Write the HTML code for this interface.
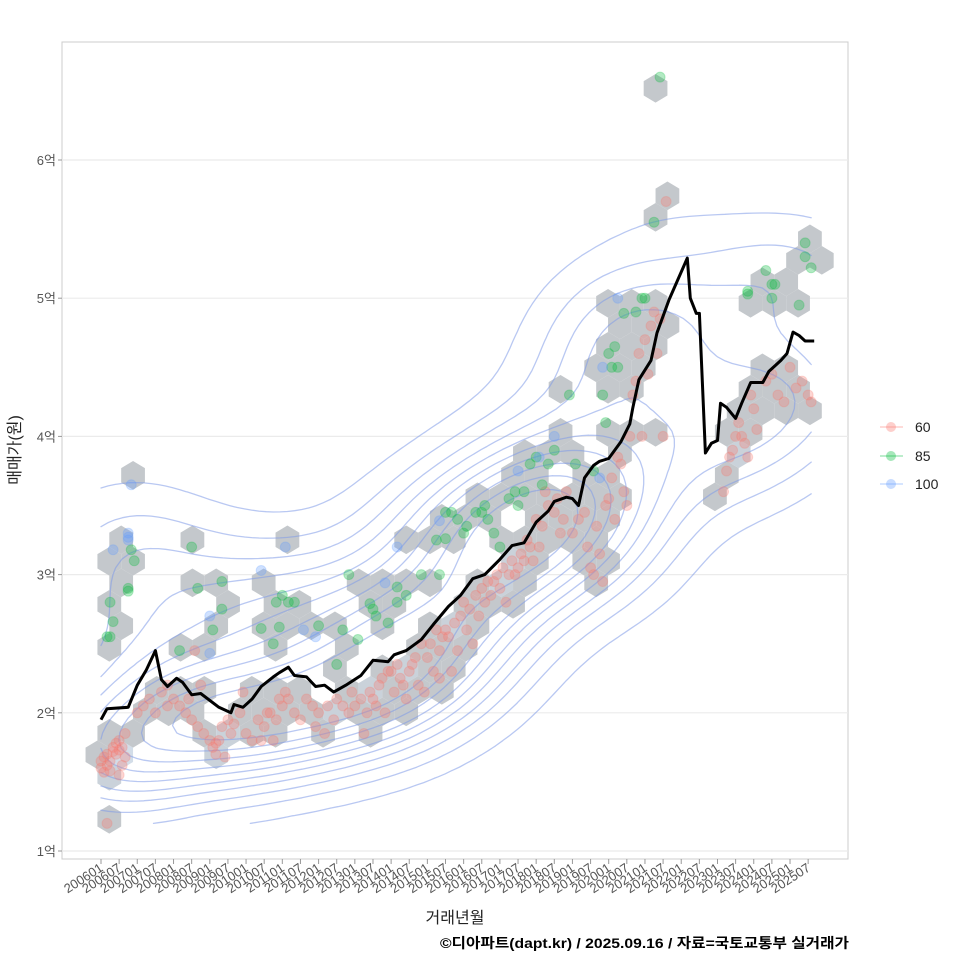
<!DOCTYPE html>
<html><head><meta charset="utf-8">
<style>
body{margin:0;background:#fff;}
svg{display:block;font-family:"Liberation Sans","Noto Sans CJK KR",sans-serif;}
</style></head>
<body>
<svg id="chart" width="960" height="960" viewBox="0 0 960 960" xmlns="http://www.w3.org/2000/svg">
<rect x="0" y="0" width="960" height="960" fill="#fff"/>
<rect x="62" y="42" width="786" height="817" fill="#fff" stroke="#cccccc" stroke-width="1"/>
<g id="grid"></g>
<g id="hexes"></g>
<g id="contours"></g>
<g id="points"></g>
<g id="line"></g>
<g id="axes"></g>
<text x="455" y="923" font-size="16" fill="#222" text-anchor="middle">거래년월</text>
<text transform="translate(20,450) rotate(-90)" font-size="16" fill="#222" text-anchor="middle">매매가(원)</text>
<text x="440" y="948" font-size="14" font-weight="bold" fill="#000" textLength="409" lengthAdjust="spacingAndGlyphs">©디아파트(dapt.kr) / 2025.09.16 / 자료=국토교통부 실거래가</text>
<g>
 <g>
  <line x1="880" y1="427" x2="903" y2="427" stroke="#F8766D" stroke-opacity="0.35" stroke-width="1.5"/>
  <circle cx="891" cy="427" r="5" fill="#F8766D" fill-opacity="0.35"/>
  <text x="915" y="432" font-size="14" fill="#222">60</text>
 </g>
 <g>
  <line x1="880" y1="456" x2="903" y2="456" stroke="#00BA38" stroke-opacity="0.35" stroke-width="1.5"/>
  <circle cx="891" cy="456" r="5" fill="#00BA38" fill-opacity="0.35"/>
  <text x="915" y="461" font-size="14" fill="#222">85</text>
 </g>
 <g>
  <line x1="880" y1="484" x2="903" y2="484" stroke="#619CFF" stroke-opacity="0.35" stroke-width="1.5"/>
  <circle cx="891" cy="484" r="5" fill="#619CFF" fill-opacity="0.35"/>
  <text x="915" y="489" font-size="14" fill="#222">100</text>
 </g>
</g>
</svg>
<script>
// ---- data ----
const yTicks = [1,2,3,4,5,6];
const yTickLabels = ["1억","2억","3억","4억","5억","6억"];
const xTickMonths = [];
const xTickLabels = [];
for (let y = 2006; y <= 2025; y++) { xTickLabels.push(y+"01"); xTickLabels.push(y+"07"); }
for (let i = 0; i < 40; i++) xTickMonths.push(i*6);

const lineMonths = [0,2,9,12,15,18,20,22,25,27,30,33,39,43,44,47,50,53,57,59,62,64,68,71,74,77,81,86,90,95,97,101,106,110,115,119,123,127,132,136,140,144,148,150,154,156,158,160,163,165,168,172,175,176,178,182,184,188,194,195,197,198,200,202,204,205,207,210,212,215,219,221,225,227,229,231,233,236];
const lineValues = [1.95,2.03,2.04,2.2,2.31,2.45,2.24,2.19,2.25,2.22,2.13,2.14,2.04,2.0,2.06,2.04,2.10,2.19,2.26,2.29,2.33,2.27,2.26,2.19,2.20,2.15,2.20,2.27,2.38,2.37,2.42,2.45,2.53,2.64,2.77,2.85,2.97,3.0,3.11,3.21,3.23,3.38,3.46,3.53,3.56,3.55,3.50,3.70,3.79,3.82,3.84,3.96,4.09,4.21,4.41,4.55,4.75,4.99,5.29,5.0,4.89,4.89,3.88,3.95,3.97,4.24,4.21,4.13,4.24,4.39,4.39,4.47,4.55,4.60,4.755,4.73,4.69,4.69];

const red60 = [[0,1.65],[0,1.6],[1,1.68],[1,1.57],[2,1.62],[2,1.7],[3,1.65],[4,1.72],[4,1.75],[5,1.7],[5,1.78],[6,1.8],[6,1.73],[7,1.75],[8,1.85],[8,1.68],[3,1.58],[6,1.55],[2,1.2],[7,1.62],
[12,2.0],[14,2.05],[16,2.1],[18,2.0],[20,2.15],[22,2.2],[24,2.1],[26,2.05],[28,2.0],[30,1.95],[32,1.9],[34,1.85],[29,2.1],[33,2.2],[22,2.05],[31,2.45],
[36,1.8],[37,1.75],[38,1.7],[39,1.8],[40,1.9],[42,1.95],[43,1.85],[44,1.92],[46,2.0],[47,2.15],[41,1.68],[38,1.78],
[48,1.85],[50,1.8],[52,1.95],[54,1.9],[55,2.0],[56,2.0],[57,1.8],[58,1.95],[59,2.1],[53,1.8],
[60,2.05],[61,2.15],[62,2.1],[64,2.0],[66,1.95],[68,2.1],[70,2.05],[71,1.9],
[72,2.0],[74,1.85],[75,2.05],[77,1.95],[78,2.1],[80,2.05],[82,2.0],[83,2.15],
[84,2.05],[86,2.1],[87,1.85],[88,2.0],[89,2.15],[90,2.1],[91,2.05],[92,2.2],[93,2.25],[94,2.0],[95,2.3],
[96,2.3],[97,2.15],[98,2.35],[99,2.25],[100,2.2],[101,2.1],[102,2.3],[103,2.35],[104,2.4],[105,2.2],[106,2.5],[107,2.15],
[108,2.4],[109,2.5],[110,2.3],[111,2.6],[112,2.45],[113,2.55],[114,2.6],[115,2.55],[116,2.3],[117,2.65],[118,2.45],[119,2.7],[112,2.25],
[120,2.8],[121,2.6],[122,2.75],[123,2.5],[124,2.85],[125,2.7],[126,2.9],[127,2.8],[128,2.95],[129,2.85],[130,2.95],[131,3.0],
[132,2.9],[133,3.05],[134,2.8],[135,3.0],[136,3.1],[137,3.0],[138,3.05],[139,3.15],[140,3.1],[141,3.25],[142,3.2],[143,3.1],
[144,3.4],[145,3.2],[146,3.35],[147,3.6],[148,3.5],[150,3.45],[151,3.55],[152,3.3],[153,3.4],[154,3.6],
[156,3.3],[158,3.4],[160,3.45],[161,3.2],[162,3.05],[163,3.0],[164,3.35],[165,3.15],[166,2.95],[167,3.5],
[168,3.55],[169,3.7],[170,3.4],[171,3.85],[172,3.8],[173,3.6],[174,3.5],[175,4.0],[176,4.3],[177,4.4],[178,4.6],[179,4.0],
[180,4.7],[181,4.45],[182,4.8],[183,4.9],[185,4.85],[186,4.0],[184,4.6],[187,5.7],
[206,3.6],[207,3.75],[208,3.85],[209,3.9],[210,4.0],[211,4.1],[212,4.0],[213,3.95],[214,3.85],[215,4.3],[216,4.2],[217,4.05],[220,4.4],[222,4.45],[224,4.3],[226,4.25],[228,4.5],[230,4.35],[232,4.4],[234,4.3],[235,4.25]];

const green85 = [[3,2.8],[4,2.66],[2,2.55],[3,2.55],[10,3.18],[11,3.1],[9,2.9],[9,2.88],[30,3.2],[32,2.9],[40,2.95],[40,2.75],[37,2.6],[26,2.45],
[58,2.8],[59,2.62],[60,2.85],[62,2.8],[64,2.8],[53,2.61],[57,2.5],[72,2.63],[78,2.35],[80,2.6],[82,3.0],[85,2.53],[89,2.79],[90,2.75],[91,2.7],[95,2.65],[98,2.91],[98,2.8],[101,2.85],[106,3.0],[112,3.0],[111,3.25],[114,3.45],[114,3.26],
[116,3.45],[118,3.4],[120,3.3],[121,3.35],[124,3.45],[126,3.45],[127,3.5],[128,3.4],[130,3.3],[132,3.2],[135,3.55],[137,3.6],[138,3.5],[140,3.6],[142,3.8],[144,3.85],[146,3.65],[148,3.8],[150,3.9],[157,3.8],[155,4.3],[163,3.75],
[166,4.3],[167,4.1],[168,4.6],[169,4.5],[170,4.65],[171,4.5],[173,4.89],[177,4.9],[179,5.0],[180,5.0],[183,5.55],[185,6.6],
[214,5.05],[214,5.03],[220,5.2],[222,5.1],[223,5.1],[222,5.0],[231,4.95],[233,5.4],[233,5.3],[235,5.22]];

const blue100 = [[4,3.18],[9,3.3],[9,3.27],[9,3.25],[10,3.65],[36,2.7],[36,2.43],[53,3.03],[61,3.2],[67,2.6],[71,2.55],[94,2.94],[98,3.2],[112,3.39],[138,3.75],[145,3.85],[150,4.0],[171,5.0],[166,4.5],[165,3.7]];

// ---- scales ----
const xS = m => 101 + 3.022*m;
const yS = v => 851 - 138.2*(v-1);
const NS = "http://www.w3.org/2000/svg";
function mk(tag, attrs, parent){ const e=document.createElementNS(NS,tag); for(const k in attrs) e.setAttribute(k,attrs[k]); parent.appendChild(e); return e; }

const gGrid = document.getElementById('grid'), gAxes = document.getElementById('axes');
yTicks.forEach((v,i)=>{
  const gl = mk('line',{x1:62,x2:848,y1:yS(v),y2:yS(v),stroke:'#ebebeb','stroke-width':1.2},gGrid);
  
  
  const tk = mk('line',{x1:58,x2:62,y1:yS(v),y2:yS(v),stroke:'#999'},gAxes);
  
  
  const t = mk('text',{x:56,y:yS(v)+5,'font-size':13,fill:'#555','text-anchor':'end'},gAxes);
  t.textContent = yTickLabels[i];
  
  
});
xTickMonths.forEach((m,i)=>{
  const x = xS(m);
  const tk = mk('line',{x1:x,x2:x,y1:859,y2:864,stroke:'#999'},gAxes);
  
  
  const t = mk('text',{transform:`translate(${x+3},${870}) rotate(-33)`,'font-size':13,fill:'#555','text-anchor':'end'},gAxes);
  t.textContent = xTickLabels[i];
  
  
});

// ---- hexbin from points ----
const allPts = red60.concat(green85, blue100);
const X0 = 109.3, Y0 = 819.3, CW = 23.75, RH = 21.5, RY = 14.33;
const bins = {};
allPts.forEach(p=>{
  const px = xS(p[0]), py = yS(p[1]);
  const v = (Y0 - py)/RH;
  let best=null, bd=1e9;
  for (let r = Math.floor(v)-1; r <= Math.floor(v)+2; r++){
    const off = (((r%2)+2)%2)*0.5;
    const c = Math.round((px - X0)/CW - off);
    for (let cc=c-1; cc<=c+1; cc++){
      const cx = X0 + CW*(cc+off), cy = Y0 - RH*r;
      const d = (px-cx)**2 + (py-cy)**2;
      if (d<bd){bd=d;best=[cc,r,cx,cy];}
    }
  }
  const k = best[0]+','+best[1];
  if(!bins[k]) bins[k]={cx:best[2],cy:best[3],n:0};
  bins[k].n++;
});
const gHex = document.getElementById('hexes');
Object.values(bins).forEach(b=>{
  const hw = CW/2, cx=b.cx, cy=b.cy;
  const pts = [[cx,cy-RY],[cx+hw,cy-RY/2],[cx+hw,cy+RY/2],[cx,cy+RY],[cx-hw,cy+RY/2],[cx-hw,cy-RY/2]].map(p=>p.join(',')).join(' ');
  const fill = b.n>=7 ? '#d3dde8' : (b.n>=4 ? '#cad2da' : '#c4c8cc');
  const h = mk('polygon',{points:pts,fill:fill},gHex);
  
  
});

// ---- KDE contours ----
const N = 100, xmin=0, xmax=235, ymin=1.2, ymax=6.6, sx=21, sy=0.31;
const dens = [];
let dmax = 0;
for (let j=0;j<N;j++){ dens.push([]); for(let i=0;i<N;i++){
  const gx = xmin+(xmax-xmin)*i/(N-1), gy = ymin+(ymax-ymin)*j/(N-1);
  let s=0; allPts.forEach(p=>{ const a=(gx-p[0])/sx, b=(gy-p[1])/sy; s+=Math.exp(-0.5*(a*a+b*b)); });
  dens[j].push(s); if(s>dmax)dmax=s; } }
const gCon = document.getElementById('contours');
const gxP = i => xS(xmin+(xmax-xmin)*i/(N-1));
const gyP = j => yS(ymin+(ymax-ymin)*j/(N-1));
for (let k=1;k<=10;k++){
  const L = dmax*k/11.5;
  let d='';
  for (let j=0;j<N-1;j++) for(let i=0;i<N-1;i++){
    const v0=dens[j][i], v1=dens[j][i+1], v2=dens[j+1][i+1], v3=dens[j+1][i];
    const corners=[[i,j,v0],[i+1,j,v1],[i+1,j+1,v2],[i,j+1,v3]];
    const cr=[];
    for(let e=0;e<4;e++){ const a=corners[e], b=corners[(e+1)%4];
      if((a[2]<L)!==(b[2]<L)){ const t=(L-a[2])/(b[2]-a[2]);
        cr.push([gxP(a[0]+(b[0]-a[0])*t), gyP(a[1]+(b[1]-a[1])*t)]); } }
    for(let q=0;q+1<cr.length;q+=2) d+=`M${cr[q][0].toFixed(1)},${cr[q][1].toFixed(1)}L${cr[q+1][0].toFixed(1)},${cr[q+1][1].toFixed(1)}`;
  }
  const p = mk('path',{d:d,fill:'none',stroke:'#7f9be8','stroke-opacity':0.55,'stroke-width':1.3,'stroke-linecap':'round'},gCon);
  
  
}

// ---- points ----
const gPts = document.getElementById('points');
[[red60,'#F8766D','point-60'],[green85,'#00BA38','point-85'],[blue100,'#619CFF','point-100']].forEach(s=>{
  s[0].forEach(p=>{
    const c = mk('circle',{cx:xS(p[0]),cy:yS(p[1]),r:5,fill:s[1],'fill-opacity':0.3,stroke:s[1],'stroke-opacity':0.25},gPts);
    
    
  });
});

// ---- line ----
const gLine = document.getElementById('line');
const ld = lineMonths.map((m,i)=>(i?'L':'M')+xS(m).toFixed(1)+','+yS(lineValues[i]).toFixed(1)).join('');
const pl = mk('path',{d:ld,fill:'none',stroke:'#000','stroke-width':3,'stroke-linejoin':'round'},gLine);


</script>
</body></html>
